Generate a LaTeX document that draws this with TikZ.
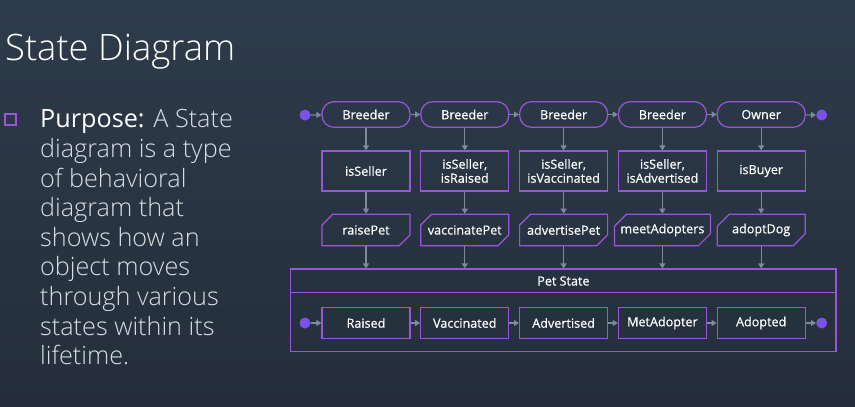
\documentclass[tikz,border=0pt]{standalone}
\usepackage{fontspec}
\setmainfont{Open Sans}
\newfontfamily\thinfamily{Open Sans Light}
\usetikzlibrary{shapes.misc,arrows.meta}
\definecolor{bgtop}{HTML}{2E3B4A}
\definecolor{bgbot}{HTML}{242E3B}
\definecolor{violet}{HTML}{9A55DA}
\definecolor{dotblue}{HTML}{7B52E8}
\definecolor{arrowgray}{HTML}{7A8B9B}
\definecolor{bodytext}{HTML}{D8DDE2}
\newcommand{\labfont}{\fontsize{12.6}{14}\selectfont\addfontfeatures{FakeBold=0.5}}

\begin{document}
\begin{tikzpicture}[x=1pt,y=-1pt,
    pill/.style={draw=violet,line width=1.2pt,rounded corners=12pt,minimum width=88pt,minimum height=25.6pt,inner sep=0pt,text=white,font=\labfont},
    guard/.style={draw=violet,line width=1.2pt,minimum width=88pt,minimum height=40pt,inner sep=0pt,align=center,text=white,font=\labfont},
    action/.style={chamfered rectangle,chamfered rectangle corners={north west,south east},chamfered rectangle xsep=6pt,chamfered rectangle ysep=6pt,draw=violet,line width=1.2pt,minimum width=88pt,minimum height=31.4pt,inner sep=0pt,text=white,font=\labfont},
    state/.style={draw=violet,line width=1.2pt,minimum width=88pt,minimum height=31pt,inner sep=0pt,text=white,font=\labfont},
    dot/.style={circle,fill=dotblue,minimum size=11pt,inner sep=0pt},
    flow/.style={-{Triangle[length=5pt,width=6pt]},draw=arrowgray,line width=1.2pt}]
    \fill[top color=bgtop,bottom color=bgbot] (0,0) rectangle (855,407);

    \node[anchor=base west,inner sep=0pt,text=white,font=\thinfamily\fontsize{36.4}{40}\selectfont] (heading) at (5,60.7) {State Diagram};
    \node[draw=violet,line width=2pt,minimum size=11.3pt,inner sep=0pt] (bullet) at (10.7,119.3) {};
    \node[anchor=north west,inner sep=0pt,align=left,text=bodytext,font=\thinfamily\fontsize{25.2}{29.6}\selectfont] (purpose) at (40,109.5)
        {\textcolor{white}{\rmfamily Purpose:} A State\\diagram is a type\\of behavioral\\diagram that\\shows how an\\object moves\\through various\\states within its\\lifetime.};

    % lifelines on top
    \node[dot] (in) at (305,115) {};
    \node[pill] (b1) at (366,114.5) {Breeder};
    \node[pill] (b2) at (464.8,114.5) {Breeder};
    \node[pill] (b3) at (563.6,114.5) {Breeder};
    \node[pill] (b4) at (662.4,114.5) {Breeder};
    \node[pill] (b5) at (761.2,114.5) {Owner};
    \node[dot] (out) at (821.7,115) {};

    \node[guard] (g1) at (366,171) {isSeller};
    \node[guard] (g2) at (464.8,171) {isSeller,\\isRaised};
    \node[guard] (g3) at (563.6,171) {isSeller,\\isVaccinated};
    \node[guard] (g4) at (662.4,171) {isSeller,\\isAdvertised};
    \node[guard] (g5) at (761.2,171) {isBuyer};

    \node[action] (a1) at (366,230) {raisePet};
    \node[action] (a2) at (464.8,230) {vaccinatePet};
    \node[action] (a3) at (563.6,230) {advertisePet};
    \node[action] (a4) at (662.4,230) {meetAdopters};
    \node[action] (a5) at (761.2,230) {adoptDog};

    % pet state box
    \node[draw=violet,line width=1.2pt,minimum width=545.3pt,minimum height=82.7pt,inner sep=0pt] (petbox) at (563.35,310.35) {};
    \draw[violet,line width=1.2pt] ([yshift=-23.7pt]petbox.north west) -- ([yshift=-23.7pt]petbox.north east);
    \node[text=white,font=\labfont] (pettitle) at (563.4,281) {Pet State};

    \node[dot] (first) at (305,323) {};
    \node[state] (s1) at (366,323) {Raised};
    \node[state] (s2) at (464.8,323) {Vaccinated};
    \node[state] (s3) at (563.6,323) {Advertised};
    \node[state] (s4) at (662.4,323) {MetAdopter};
    \node[state] (s5) at (761.2,323) {Adopted};
    \node[dot] (last) at (821.7,323) {};

    \draw[flow] (in) -- (b1);
    \draw[flow] (b1) -- (b2);
    \draw[flow] (b2) -- (b3);
    \draw[flow] (b3) -- (b4);
    \draw[flow] (b4) -- (b5);
    \draw[flow] (b5) -- (out);

    \draw[flow] (b1) -- (g1);
    \draw[flow] (b2) -- (g2);
    \draw[flow] (b3) -- (g3);
    \draw[flow] (b4) -- (g4);
    \draw[flow] (b5) -- (g5);
    \draw[flow] (g1) -- (a1);
    \draw[flow] (g2) -- (a2);
    \draw[flow] (g3) -- (a3);
    \draw[flow] (g4) -- (a4);
    \draw[flow] (g5) -- (a5);
    \draw[flow] (a1.south) -- (a1.south |- petbox.north);
    \draw[flow] (a2.south) -- (a2.south |- petbox.north);
    \draw[flow] (a3.south) -- (a3.south |- petbox.north);
    \draw[flow] (a4.south) -- (a4.south |- petbox.north);
    \draw[flow] (a5.south) -- (a5.south |- petbox.north);

    \draw[flow] (first) -- (s1);
    \draw[flow] (s1) -- (s2);
    \draw[flow] (s2) -- (s3);
    \draw[flow] (s3) -- (s4);
    \draw[flow] (s4) -- (s5);
    \draw[flow] (s5) -- (last);
\end{tikzpicture}
\end{document}
